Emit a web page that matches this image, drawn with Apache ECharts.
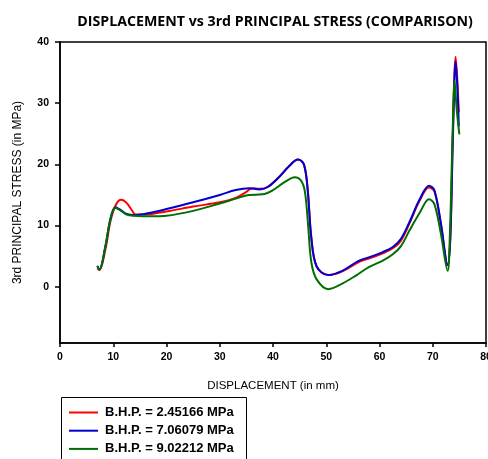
<!DOCTYPE html>
<html><head><meta charset="utf-8">
<script src="https://cdn.jsdelivr.net/npm/echarts@6/dist/echarts.min.js"></script>
<style>html,body{margin:0;padding:0;background:#fff}#c{width:488px;height:459px}</style>
</head><body><div id="c"></div>
<script>
const seriesNames = ['B.H.P. = 2.45166 MPa', 'B.H.P. = 7.06079 MPa', 'B.H.P. = 9.02212 MPa'];
const xTickLabels = [0, 10, 20, 30, 40, 50, 60, 70, 80];
const yTickLabels = [0, 10, 20, 30, 40];

const redX = [7.0, 7.4, 8.5, 9.5, 10.5, 11.5, 12.5, 13.5, 14.2, 16, 20, 25, 30, 33, 35, 36, 37.5, 39, 41, 43, 44.7, 45.8, 46.5, 47.2, 48.2, 50.4, 53, 56, 58, 60.7, 62.5, 64, 65.7, 67.5, 69.3, 70.3, 71.5, 72.8, 73.3, 73.8, 74.3, 74.6, 74.9];
const redY = [3.0, 2.7, 6.0, 10.8, 13.4, 14.2, 13.7, 12.5, 11.8, 11.8, 12.3, 13.1, 13.8, 14.5, 15.5, 16.1, 16.0, 16.3, 17.8, 19.7, 20.8, 20.0, 16.0, 8.0, 3.3, 1.9, 2.5, 4.0, 4.6, 5.5, 6.3, 7.5, 10.5, 14.0, 16.2, 15.6, 10.4, 3.5, 8.0, 26.0, 37.6, 34.0, 28.5];

const blueX = [7.0, 7.4, 8.5, 9.5, 10.4, 11.3, 12.5, 14, 17, 20, 25, 30, 33, 35.5, 37.5, 39, 41, 43, 44.7, 45.8, 46.5, 47.2, 48.2, 50.4, 53, 56, 58, 60.7, 62.5, 64, 65.7, 67.5, 69.3, 70.3, 71.5, 72.8, 73.3, 73.8, 74.3, 74.6, 74.9];
const blueY = [3.4, 2.8, 6.5, 11.2, 13.0, 12.6, 11.9, 11.7, 12.1, 12.7, 13.8, 15.0, 15.8, 16.1, 15.9, 16.3, 17.8, 19.7, 20.8, 20.0, 16.0, 8.0, 3.3, 1.9, 2.6, 4.2, 4.8, 5.7, 6.5, 7.8, 10.7, 14.2, 16.5, 15.8, 10.5, 3.6, 8.0, 25.0, 36.8, 33.0, 26.2];

const greenX = [7.0, 7.4, 8.5, 9.5, 10.4, 11.3, 12.5, 14, 17, 20, 25, 30, 33, 35.5, 38, 40, 42, 44.1, 45.3, 46.0, 46.6, 47.2, 48.2, 50.4, 53, 55.7, 58, 60.7, 62.5, 64, 65.7, 67.5, 69.3, 70.3, 71.5, 72.8, 73.2, 73.7, 74.1, 74.5, 75.0];
const greenY = [3.4, 2.8, 6.5, 11.2, 12.9, 12.5, 11.8, 11.6, 11.5, 11.6, 12.4, 13.6, 14.4, 15.0, 15.1, 15.8, 17.0, 17.9, 17.3, 15.5, 10.0, 4.0, 1.2, -0.4, 0.5, 1.9, 3.2, 4.3, 5.3, 6.6, 9.3, 12.0, 14.3, 13.5, 8.8, 2.6, 8.0, 24.0, 33.6, 29.0, 24.9];

const colors = ['#ff0000', '#0000d0', '#006e00'];
const pairs = (xs, ys) => xs.map((x, i) => [x, ys[i]]);
const allData = [pairs(redX, redY), pairs(blueX, blueY), pairs(greenX, greenY)];

const chart = echarts.init(document.getElementById('c'), null, {renderer: 'canvas'});
chart.setOption({
  animation: false,
  backgroundColor: '#fff',
  title: {
    text: 'DISPLACEMENT vs 3rd PRINCIPAL STRESS (COMPARISON)',
    left: 270, top: 10, textAlign: 'center',
    textStyle: {fontFamily: 'Open Sans', fontWeight: 'bold', fontSize: 14.2, color: '#000'}
  },
  graphic: [{
    type: 'rect', left: 59, top: 395, silent: true,
    shape: {width: 185, height: 80},
    style: {fill: 'none', stroke: '#000', lineWidth: 1}
  }],
  legend: {
    show: true,
    orient: 'vertical', left: 59, top: 396,
    padding: [10, 8, 0, 9],
    itemWidth: 29, itemHeight: 12, itemGap: 5.2,
    data: seriesNames,
    itemStyle: {opacity: 0},
    lineStyle: {width: 2},
    textStyle: {fontFamily: 'Liberation Sans', fontWeight: 'bold', fontSize: 13, color: '#000', padding: [0, 0, 0, 2]}
  },
  grid: {left: 60, right: 2, top: 42, bottom: 116, show: true, borderColor: '#000', borderWidth: 1.5,
    outerBoundsMode: 'none', containLabel: false},
  xAxis: {
    type: 'value', min: 0, max: 80, interval: 10,
    name: 'DISPLACEMENT (in mm)', nameLocation: 'middle', nameGap: 37,
    nameTextStyle: {fontFamily: 'Liberation Sans', fontSize: 11.5, color: '#000'},
    axisLine: {show: true, onZero: false, lineStyle: {color: '#000', width: 1.5}},
    axisTick: {show: true, length: 4, lineStyle: {color: '#000', width: 1.5}},
    axisLabel: {margin: 9, fontFamily: 'Liberation Sans', fontWeight: 'bold', fontSize: 10.5, color: '#000'},
    splitLine: {show: false}
  },
  yAxis: {
    type: 'value', min: -9.2, max: 40,
    name: '3rd PRINCIPAL STRESS (in MPa)', nameLocation: 'middle', nameGap: 36,
    nameTextStyle: {fontFamily: 'Liberation Sans', fontSize: 12, color: '#000'},
    axisLine: {show: true, onZero: false, lineStyle: {color: '#000', width: 1.5}},
    axisTick: {show: true, length: 5, lineStyle: {color: '#000', width: 1.5}, customValues: yTickLabels},
    axisLabel: {margin: 11, fontFamily: 'Liberation Sans', fontWeight: 'bold', fontSize: 10.5, color: '#000',
      customValues: yTickLabels},
    splitLine: {show: false}
  },
  series: allData.map((d, i) => ({
    name: seriesNames[i], type: 'line', data: d, smooth: 0.35,
    symbol: 'none', color: colors[i],
    lineStyle: {color: colors[i], width: 2}
  }))
});
</script></body></html>
